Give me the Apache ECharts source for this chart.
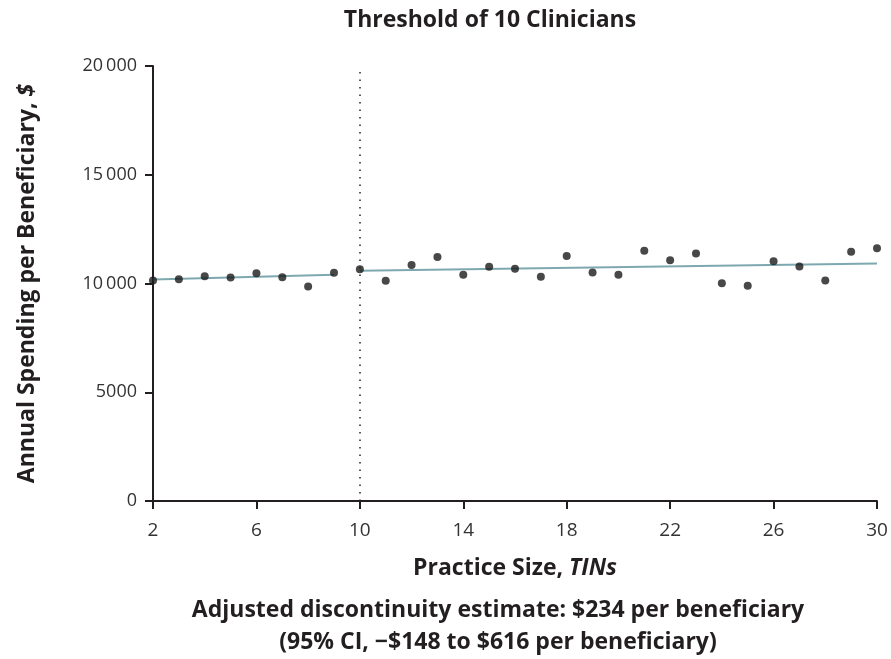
<!DOCTYPE html>
<html><head><meta charset="utf-8">
<script src="https://cdn.jsdelivr.net/npm/echarts@6/dist/echarts.min.js"></script>
<style>html,body{margin:0;padding:0;background:#fff}#c{width:891px;height:659px}</style>
</head><body><div id="c"></div>
<script>
const practiceSize = [2,3,4,5,6,7,8,9,10,11,12,13,14,15,16,17,18,19,20,21,22,23,24,25,26,27,28,29,30];
const spending = [10140,10200,10330,10275,10470,10290,9865,10500,10655,10125,10855,11220,10400,10765,10675,10310,11270,10505,10400,11510,11065,11375,10015,9895,11020,10780,10140,11465,11615];
const fitLeftX = [2, 9];
const fitLeftY = [10180, 10400];
const fitRightX = [10, 30];
const fitRightY = [10590, 10920];
const xTicks = [2,6,10,14,18,22,26,30];
const threshold = 10;
const FONT = 'Open Sans';
const BIG = 23;

const chart = echarts.init(document.getElementById('c'));
chart.setOption({
  animation: false,
  textStyle: {fontFamily: FONT},
  title: [
    {text: 'Threshold of 10 Clinicians', left: 485, top: 4, textAlign: 'center',
     textStyle: {fontFamily: FONT, fontSize: BIG, fontWeight: 'bold', color: '#231f20'}},
    {text: 'Adjusted discontinuity estimate: $234 per beneficiary', left: 493, top: 594, textAlign: 'center',
     textStyle: {fontFamily: FONT, fontSize: BIG, fontWeight: 'bold', color: '#231f20'}},
    {text: '(95% CI, \u2212$148 to $616 per beneficiary)', left: 493, top: 626, textAlign: 'center',
     textStyle: {fontFamily: FONT, fontSize: BIG, fontWeight: 'bold', color: '#231f20'}}
  ],
  grid: {left: 153, right: 14, top: 66, bottom: 158},
  xAxis: {
    type: 'value', min: 2, max: 30,
    name: '{a|Practice Size, }{b|TINs}', nameLocation: 'middle', nameGap: 56,
    nameTextStyle: {rich: {
      a: {fontFamily: FONT, fontSize: BIG, fontWeight: 'bold', color: '#231f20'},
      b: {fontFamily: FONT, fontSize: BIG, fontWeight: 'bold', fontStyle: 'italic', color: '#231f20'}}},
    axisLine: {lineStyle: {color: '#231f20', width: 2}},
    axisTick: {show: true, length: 8, lineStyle: {color: '#231f20', width: 2}, customValues: xTicks},
    axisLabel: {customValues: xTicks, fontFamily: FONT, fontSize: 19, color: '#333', margin: 20},
    splitLine: {show: false}
  },
  yAxis: {
    type: 'value', min: 0, max: 20000, interval: 5000,
    name: '{a|Annual Spending per Beneficiary, }{b|$}', nameLocation: 'middle', nameGap: 114,
    nameTextStyle: {rich: {
      a: {fontFamily: FONT, fontSize: BIG, fontWeight: 'bold', color: '#231f20'},
      b: {fontFamily: FONT, fontSize: BIG, fontWeight: 'bold', fontStyle: 'italic', color: '#231f20'}}},
    axisLine: {show: true, lineStyle: {color: '#231f20', width: 2}},
    axisTick: {show: true, length: 8, lineStyle: {color: '#231f20', width: 2}},
    axisLabel: {fontFamily: FONT, fontSize: 18, color: '#333', margin: 16,
      formatter: v => v >= 10000 ? String(v).replace(/(\d)(?=(\d{3})+$)/g, '$1\u2009') : String(v)},
    splitLine: {show: false}
  },
  series: [
    {type: 'line', data: fitLeftX.map((x, i) => [x, fitLeftY[i]]), symbol: 'none',
     lineStyle: {color: '#7ea8b0', width: 2}, z: 2},
    {type: 'line', data: fitRightX.map((x, i) => [x, fitRightY[i]]), symbol: 'none',
     lineStyle: {color: '#7ea8b0', width: 2}, z: 2},
    {type: 'scatter', data: practiceSize.map((x, i) => [x, spending[i]]), symbolSize: 8,
     itemStyle: {color: '#1a1a1a'}, z: 3,
     markLine: {silent: true, symbol: 'none', label: {show: false},
       lineStyle: {type: [1.5, 6], color: '#231f20', width: 1.5},
       data: [{xAxis: threshold}]}}
  ]
});
</script></body></html>
